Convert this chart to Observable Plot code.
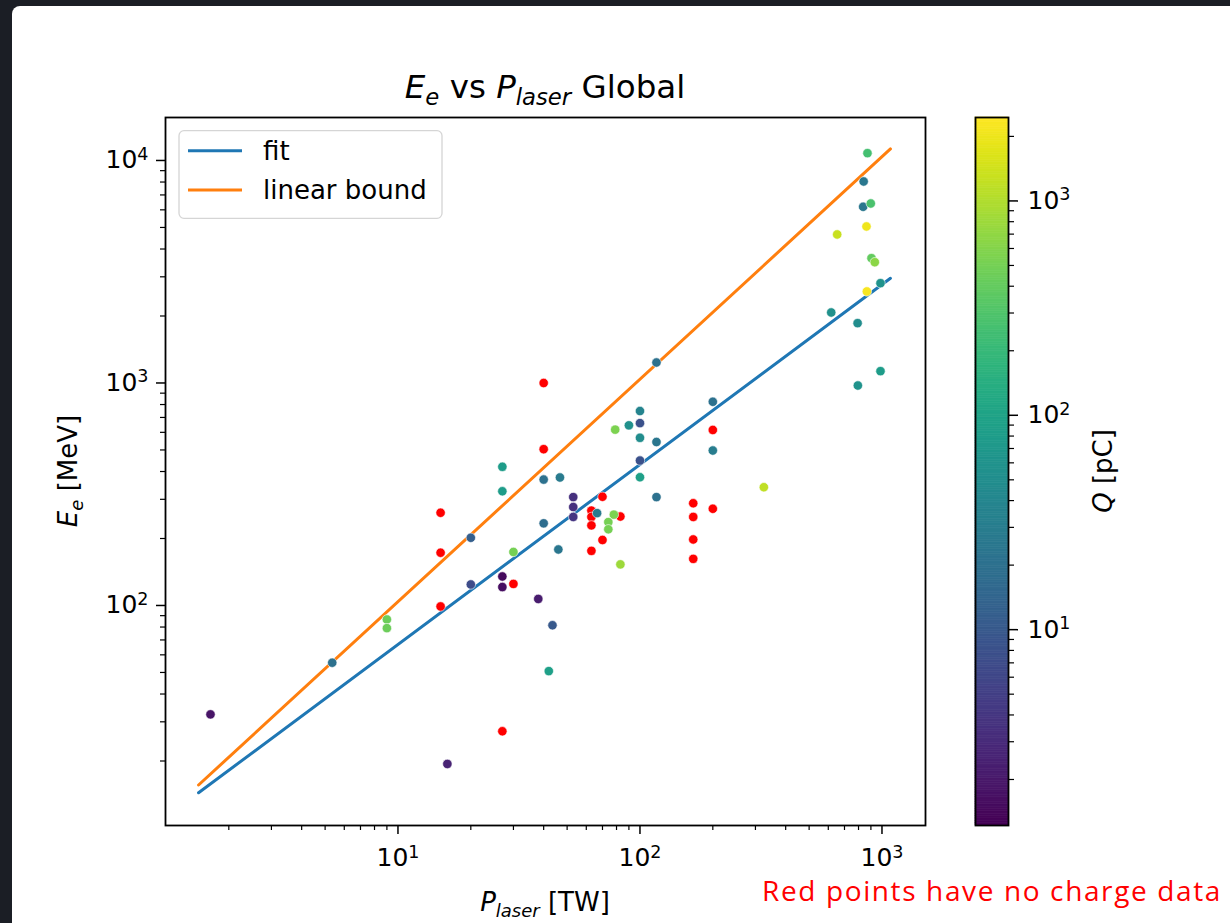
<!DOCTYPE html>
<html><head><meta charset="utf-8">
<script src="https://cdn.jsdelivr.net/npm/d3@7"></script>
<script src="https://cdn.jsdelivr.net/npm/@observablehq/plot@0.6"></script>
<style>
html,body{margin:0;padding:0;}
body{width:1230px;height:923px;background:#1b1e25;position:relative;overflow:hidden;font-family:"DejaVu Sans";}
#panel{position:absolute;left:12px;top:6px;right:0;bottom:0;background:#fff;border-top-left-radius:8px;}
#title{position:absolute;left:165px;width:760px;top:67px;text-align:center;font-size:32.5px;line-height:40px;white-space:nowrap;color:#000;}
#title .sub{font-size:70%;position:relative;top:0.3em;}
#main{position:absolute;left:0;top:105px;}
#cbar{position:absolute;left:950px;top:105px;}
#main svg,#cbar svg{max-width:none;overflow:visible;}
#caption{position:absolute;left:762px;top:876px;font-family:"Open Sans";font-size:28px;line-height:28px;color:#ff0000;white-space:nowrap;}
</style></head>
<body>
<div id="panel"></div>
<div id="title"><i>E</i><i class="sub">e</i> vs <i>P</i><i class="sub">laser</i> Global</div>
<div id="main"></div>
<div id="cbar"></div>
<div id="caption"><span id="captext">Red points have no charge data</span></div>
<script>
// ---- data: points with charge measurement ----
const chargedP = [1.68, 5.35, 9, 9, 20, 20, 27, 27, 27, 27, 30, 38, 43.5, 42, 16, 40, 40, 46.7, 46, 117,
  100, 90, 100, 79, 100, 117, 200, 200, 100, 100, 117, 53, 53, 53, 66.5, 78, 74, 74, 83, 325,
  871, 840, 836, 899, 863, 653, 905, 934, 866, 986, 617, 793, 986, 795];
const chargedE = [32.4, 55.3, 86.5, 79.1, 201.5, 124.3, 420, 326, 135, 121, 174, 107, 81.5, 50.7, 19.4, 368, 234, 376, 178.5, 1236,
  748, 645, 660, 617, 567, 543, 823, 497, 448, 377, 307, 307, 277, 250, 260, 256, 237, 220, 153, 340,
  10785, 8045, 6192, 6407, 5051, 4650, 3638, 3490, 2578, 2809, 2074, 1857, 1130, 974];
const chargedQ = [1.8, 20, 450, 450, 12, 7, 80, 80, 1.5, 1.6, 500, 2.2, 10, 90, 2.5, 20, 18, 28, 24, 20,
  38, 55, 8, 550, 50, 24, 20, 30, 8, 90, 20, 3.5, 3.5, 4, 28, 550, 500, 500, 800, 1200,
  250, 25, 25, 280, 2000, 1300, 400, 650, 2300, 60, 55, 50, 80, 60];
// ---- data: points without charge data (red) ----
const nochargeP = [15, 15, 15, 30, 27, 40, 200, 40, 70, 63, 63, 63, 83, 70, 63, 166, 166, 166, 166, 200];
const nochargeE = [261, 172.6, 99, 125, 27.2, 1000, 615, 504, 308, 267, 250, 229, 251, 197, 176, 288, 250, 198, 162, 272];
// ---- fit and linear bound lines ----
const lineP = [1.5, 1084];
const fitE = [14.4, 2955];
const boundE = [15.6, 11270];
// ---- ticks ----
const xMajor = [10, 100, 1000];
const xMinor = [2,3,4,5,6,7,8,9,20,30,40,50,60,70,80,90,200,300,400,500,600,700,800,900];
const yMajor = [100, 1000, 10000];
const yMinor = [20,30,40,50,60,70,80,90,200,300,400,500,600,700,800,900,2000,3000,4000,5000,6000,7000,8000,9000];
const cbMajor = [10, 100, 1000];
const cbMinor = [2,3,4,5,6,7,8,9,20,30,40,50,60,70,80,90,200,300,400,500,600,700,800,900,2000];
const xDomain = [1.095, 1513];
const yDomain = [10.26, 15600];
const qDomain = [1.22, 2450];

const charged = chargedP.map((p, i) => ({P: p, E: chargedE[i], Q: chargedQ[i]}));
const nocharge = nochargeP.map((p, i) => ({P: p, E: nochargeE[i]}));
const fitLine = lineP.map((p, i) => ({P: p, E: fitE[i]}));
const boundLine = lineP.map((p, i) => ({P: p, E: boundE[i]}));

const fmt = d => "10^" + Math.round(Math.log10(d));
const blank = () => "";
function supify(el) {
  d3.select(el).selectAll("text").each(function () {
    const m = /^10\^(-?\d+)$/.exec(this.textContent);
    if (!m) return;
    const s = d3.select(this);
    s.text("");
    s.append("tspan").text("10");
    s.append("tspan").attr("font-size", "70%").attr("dy", "-0.5em").text(m[1]);
  });
}

const W = 950, H = 818, FT = 12, FB = 720;
const baseStyle = {background: "transparent", fontFamily: "DejaVu Sans", fontSize: "25px", color: "#000", overflow: "visible"};

const main = Plot.plot({
  width: W, height: H,
  marginLeft: 165, marginRight: W - 925, marginTop: FT, marginBottom: H - FB,
  style: baseStyle,
  x: {type: "log", domain: xDomain},
  y: {type: "log", domain: yDomain},
  color: {type: "log", scheme: "viridis", domain: qDomain},
  marks: [
    Plot.line(fitLine, {x: "P", y: "E", stroke: "#1f77b4", strokeWidth: 3}),
    Plot.line(boundLine, {x: "P", y: "E", stroke: "#ff7f0e", strokeWidth: 3}),
    Plot.dot(nocharge, {x: "P", y: "E", r: 4.7, fill: "#ff0000", stroke: "white", strokeWidth: 0.6}),
    Plot.dot(charged, {x: "P", y: "E", r: 4.7, fill: "Q", stroke: "white", strokeWidth: 0.6}),
    Plot.axisX(xMajor, {tickSize: 9, tickPadding: 14, tickFormat: fmt, label: null, strokeWidth: 1.5}),
    Plot.axisX(xMinor, {tickSize: 5, tickFormat: blank, label: null, strokeWidth: 1.2}),
    Plot.axisY(yMajor, {tickSize: 9, tickPadding: 8, tickFormat: fmt, label: null, strokeWidth: 1.5}),
    Plot.axisY(yMinor, {tickSize: 5, tickFormat: blank, label: null, strokeWidth: 1.2}),
    Plot.frame({stroke: "#000", strokeWidth: 1.8})
  ]
});
document.getElementById("main").appendChild(main);
supify(main);

// axis labels and legend (added into the svg)
const svg = d3.select(main);
const xl = svg.append("text").attr("x", 545).attr("y", 806).attr("text-anchor", "middle")
  .attr("font-size", 26).attr("fill", "#000");
xl.append("tspan").attr("font-style", "italic").text("P");
xl.append("tspan").attr("font-style", "italic").attr("font-size", 18).attr("dy", 6).text("laser");
xl.append("tspan").attr("dy", -6).text(" [TW]");

const yl = svg.append("text").attr("transform", `translate(77,${(FT + FB) / 2}) rotate(-90)`)
  .attr("text-anchor", "middle").attr("font-size", 26).attr("fill", "#000");
yl.append("tspan").attr("font-style", "italic").text("E");
yl.append("tspan").attr("font-style", "italic").attr("font-size", 18).attr("dy", 6).text("e");
yl.append("tspan").attr("dy", -6).text(" [MeV]");

const lg = svg.append("g").attr("font-size", 26).attr("fill", "#000").attr("text-anchor", "start");
lg.append("rect").attr("x", 179).attr("y", 25.7).attr("width", 263).attr("height", 87.6).attr("rx", 5)
  .attr("fill", "white").attr("fill-opacity", 0.8).attr("stroke", "#d5d5d5").attr("stroke-width", 1.3);
[["fit", "#1f77b4", 45.7], ["linear bound", "#ff7f0e", 85]].forEach(([t, c, y]) => {
  lg.append("line").attr("x1", 188).attr("x2", 242).attr("y1", y).attr("y2", y).attr("stroke", c).attr("stroke-width", 3);
  lg.append("text").attr("x", 263).attr("y", y).attr("dy", "0.35em").attr("text-anchor", "start").text(t);
});

// ---- colorbar ----
const nStops = 300;
const lq0 = Math.log10(qDomain[0]), lq1 = Math.log10(qDomain[1]);
const cbStops = d3.range(nStops).map(i => {
  const a = Math.pow(10, lq0 + (lq1 - lq0) * i / nStops);
  const b = Math.pow(10, lq0 + (lq1 - lq0) * (i + 1) / nStops);
  return {y1: a, y2: b, q: Math.sqrt(a * b)};
});
const CW = 280;
const cb = Plot.plot({
  width: CW, height: H,
  marginLeft: 25, marginRight: CW - 25 - 33, marginTop: FT, marginBottom: H - FB,
  style: baseStyle,
  x: {domain: [0, 1], axis: null},
  y: {type: "log", domain: qDomain},
  color: {type: "log", scheme: "viridis", domain: qDomain},
  marks: [
    Plot.rect(cbStops, {x1: 0, x2: 1, y1: "y1", y2: "y2", fill: "q", stroke: "q", strokeWidth: 0.6}),
    Plot.axisY(cbMajor, {anchor: "right", tickSize: 9, tickPadding: 10, tickFormat: fmt, label: null, strokeWidth: 1.5}),
    Plot.axisY(cbMinor, {anchor: "right", tickSize: 5, tickFormat: blank, label: null, strokeWidth: 1.2}),
    Plot.frame({stroke: "#000", strokeWidth: 1.8})
  ]
});
document.getElementById("cbar").appendChild(cb);
supify(cb);
const ql = d3.select(cb).append("text").attr("transform", `translate(162,${(FT + FB) / 2}) rotate(-90)`)
  .attr("text-anchor", "middle").attr("font-size", 26).attr("fill", "#000");
ql.append("tspan").attr("font-style", "italic").text("Q");
ql.append("tspan").text(" [pC]");

// caption width matched to the reference
const cap = document.getElementById("captext");
const cw = cap.getBoundingClientRect().width;
const n = cap.textContent.length;
cap.style.letterSpacing = ((460 - cw) / n) + "px";
</script>
</body></html>
